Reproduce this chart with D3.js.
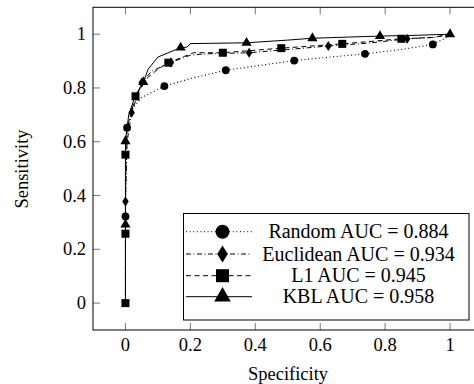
<!DOCTYPE html>
<html><head><meta charset="utf-8">
<script src="https://cdn.jsdelivr.net/npm/d3@7"></script>
<style>html,body{margin:0;padding:0;background:#fff;}svg{display:block;}
svg text{font-family:"Liberation Serif","Tinos","Times New Roman","DejaVu Serif",serif;}</style>
</head><body>
<script>
const xTicks = [0, 0.2, 0.4, 0.6, 0.8, 1];
const yTicks = [0, 0.2, 0.4, 0.6, 0.8, 1];
const seriesNames = ["Random", "Euclidean", "L1", "KBL"];
const aucValues = ["0.884", "0.934", "0.945", "0.958"];

const randomCurve = [[0,0],[0,0.3225],[0.005,0.652],[0.02,0.72],[0.05,0.765],[0.12,0.807],[0.2,0.835],[0.309,0.866],[0.42,0.885],[0.52,0.902],[0.63,0.915],[0.738,0.927],[0.85,0.943],[0.947,0.962],[0.985,0.985],[1,1]];
const randomMarks = [[0,0.3225],[0.005,0.652],[0.12,0.807],[0.309,0.866],[0.52,0.902],[0.738,0.927],[0.947,0.962]];

const euclidCurve = [[0,0],[0,0.378],[0.005,0.6],[0.019,0.708],[0.05,0.82],[0.08,0.862],[0.14,0.895],[0.2,0.922],[0.25,0.927],[0.381,0.931],[0.5,0.943],[0.625,0.956],[0.75,0.967],[0.868,0.983],[0.95,0.988],[1,1]];
const euclidMarks = [[0,0.378],[0.019,0.708],[0.05,0.82],[0.14,0.895],[0.381,0.931],[0.625,0.956],[0.868,0.983]];

const l1Curve = [[0,0],[0,0.258],[0,0.552],[0.005,0.65],[0.031,0.769],[0.06,0.83],[0.1,0.87],[0.132,0.894],[0.17,0.912],[0.21,0.931],[0.3,0.931],[0.48,0.948],[0.668,0.964],[0.85,0.983],[0.95,0.988],[1,1]];
const l1Marks = [[0,0],[0,0.258],[0,0.552],[0.031,0.769],[0.132,0.894],[0.3,0.931],[0.48,0.948],[0.668,0.964],[0.85,0.983]];

const kblCurve = [[0,0],[0,0.292],[0,0.602],[0.01,0.7],[0.03,0.77],[0.055,0.822],[0.07,0.87],[0.1,0.915],[0.17,0.95],[0.19,0.952],[0.2,0.965],[0.373,0.968],[0.5,0.978],[0.576,0.985],[0.784,0.993],[0.9,0.996],[1,1]];
const kblMarks = [[0,0.292],[0,0.602],[0.055,0.822],[0.17,0.95],[0.373,0.968],[0.576,0.985],[0.784,0.993],[1,1]];

const curves = [randomCurve, euclidCurve, l1Curve, kblCurve];
const marks = [randomMarks, euclidMarks, l1Marks, kblMarks];
const dashes = ["1,2.6", "5,2.5,1,2.5", "5,3.5", null];
const shapes = ["circle", "diamond", "square", "triangle"];

const W = 474, H = 384;
const svg = d3.select("body").append("svg").attr("width", W).attr("height", H);
const x = d3.scaleLinear().domain([-0.1, 1.1]).range([93, 482.5]);
const y = d3.scaleLinear().domain([-0.1, 1.1]).range([330, 7.3]);

// ticks (inward, both sides)
const TL = 7;
const tg = svg.append("g").attr("stroke", "#666").attr("stroke-width", 0.9);
xTicks.forEach(t => {
  tg.append("line").attr("x1", x(t)).attr("x2", x(t)).attr("y1", y.range()[0]).attr("y2", y.range()[0] - TL);
  tg.append("line").attr("x1", x(t)).attr("x2", x(t)).attr("y1", y.range()[1]).attr("y2", y.range()[1] + TL);
});
yTicks.forEach(t => {
  tg.append("line").attr("y1", y(t)).attr("y2", y(t)).attr("x1", x.range()[0]).attr("x2", x.range()[0] + TL);
  tg.append("line").attr("y1", y(t)).attr("y2", y(t)).attr("x1", x.range()[1]).attr("x2", x.range()[1] - TL);
});

// frame
svg.append("rect").attr("x", x.range()[0]).attr("y", y.range()[1])
  .attr("width", x.range()[1] - x.range()[0]).attr("height", y.range()[0] - y.range()[1])
  .attr("fill", "none").attr("stroke", "#000").attr("stroke-width", 1);

// tick labels
svg.append("g").selectAll("text").data(xTicks).join("text")
  .attr("x", d => x(d)).attr("y", 351).attr("text-anchor", "middle")
  .attr("font-size", 18.5).text(d => d3.format("~g")(d));
svg.append("g").selectAll("text").data(yTicks).join("text")
  .attr("x", 86).attr("y", d => y(d) + 6).attr("text-anchor", "end")
  .attr("font-size", 18.5).text(d => d3.format("~g")(d));

// axis labels
svg.append("text").attr("x", 288).attr("y", 380).attr("text-anchor", "middle")
  .attr("font-size", 18.5).text("Specificity");
svg.append("text").attr("transform", "translate(28,169) rotate(-90)").attr("text-anchor", "middle")
  .attr("font-size", 18.5).text("Sensitivity");

function drawMarker(g, shape, cx, cy, s) {
  if (shape === "circle") g.append("circle").attr("cx", cx).attr("cy", cy).attr("r", s * 0.5).attr("fill", "#000");
  else if (shape === "square") g.append("rect").attr("x", cx - s * 0.5).attr("y", cy - s * 0.5).attr("width", s).attr("height", s).attr("fill", "#000");
  else if (shape === "diamond") g.append("path").attr("d", `M${cx},${cy - s * 0.6}L${cx + s * 0.38},${cy}L${cx},${cy + s * 0.6}L${cx - s * 0.38},${cy}Z`).attr("fill", "#000");
  else if (shape === "triangle") { const r = s * 0.62; g.append("path").attr("d", `M${cx},${cy - r}L${cx + r * 0.866},${cy + r * 0.5}L${cx - r * 0.866},${cy + r * 0.5}Z`).attr("fill", "#000"); }
}

const line = d3.line().x(d => x(d[0])).y(d => y(d[1]));
const markSizes = [7.8, 8.5, 8, 9.5];
curves.forEach((c, i) => {
  const g = svg.append("g");
  g.append("path").attr("d", line(c)).attr("fill", "none").attr("stroke", "#000")
    .attr("stroke-width", i === 0 ? 1.1 : 1).attr("stroke-dasharray", dashes[i]);
  marks[i].forEach(p => drawMarker(g, shapes[i], x(p[0]), y(p[1]), markSizes[i]));
});

// legend
const lg = svg.append("g");
lg.append("rect").attr("x", 183.5).attr("y", 213.5).attr("width", 285.5).attr("height", 106.5)
  .attr("fill", "#fff").attr("stroke", "#000").attr("stroke-width", 1);
const rowY = [231.7, 254, 275.7, 296.7];
const legSizes = [14, 14, 13, 15.5];
seriesNames.forEach((n, i) => {
  lg.append("line").attr("x1", 186).attr("x2", 252).attr("y1", rowY[i]).attr("y2", rowY[i])
    .attr("stroke", "#000").attr("stroke-width", 1).attr("stroke-dasharray", dashes[i]);
  drawMarker(lg, shapes[i], 222.5, rowY[i], legSizes[i]);
  lg.append("text").attr("x", 358.5).attr("y", rowY[i] + 6.5).attr("text-anchor", "middle")
    .attr("font-size", 20).text(`${n} AUC = ${aucValues[i]}`);
});
</script>
</body></html>
